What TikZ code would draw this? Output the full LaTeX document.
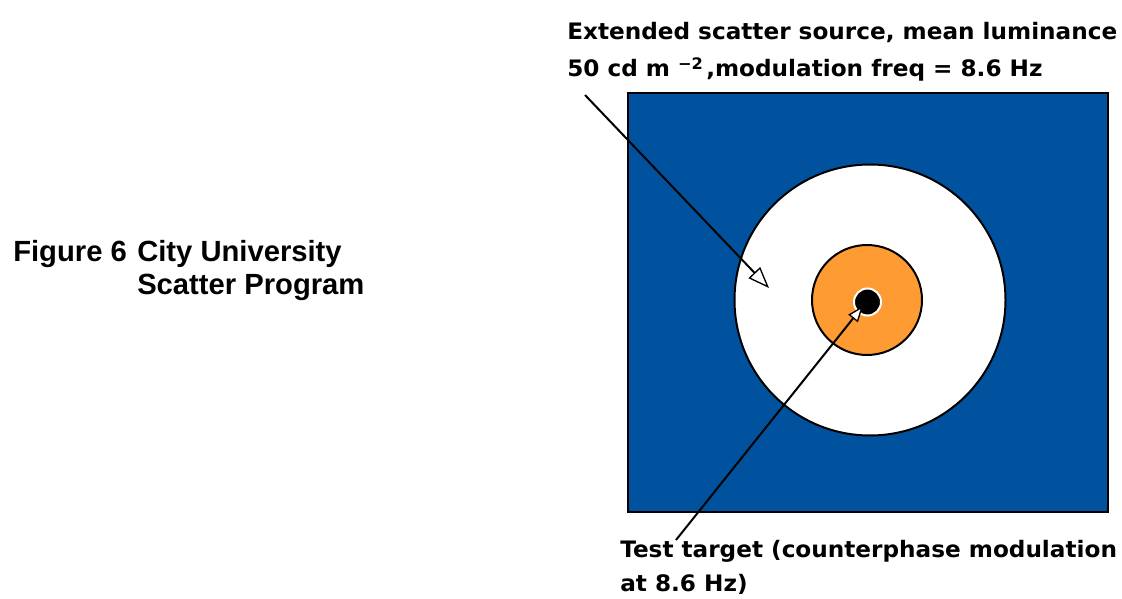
\documentclass[tikz,border=0pt]{standalone}
\usepackage{fontspec}
\setmainfont{Liberation Sans}
\newfontfamily\notefont[FakeStretch=1.022]{DejaVu Sans}
\usetikzlibrary{arrows.meta}
\definecolor{fieldblue}{RGB}{0,82,159}
\definecolor{ringorange}{RGB}{255,155,51}
\tikzset{
  note/.style={font=\notefont\bfseries\fontsize{17}{20}\selectfont, inner sep=0pt, anchor=base west},
  caption/.style={font=\bfseries\fontsize{21.9}{25}\selectfont, inner sep=0pt, anchor=base west},
  pointer/.style={line width=1.5pt, -{Triangle[open, fill=white, length=16pt, width=12pt, line width=1pt]}},
  pointersmall/.style={line width=1.5pt, -{Triangle[open, fill=white, length=12pt, width=9pt, line width=1pt]}},
}
\begin{document}
\begin{tikzpicture}[x=0.75pt, y=-0.75pt]
  \useasboundingbox (0,0) rectangle (1122,599);
  % stimulus field
  \draw[line width=1.5pt, fill=fieldblue] (628,93) rectangle (1108,512);
  \draw[line width=1.5pt, fill=white] (870,300) circle (135.5);
  \draw[line width=1.5pt, fill=ringorange] (867,300) circle (55);
  \draw[line width=1.5pt, draw=white, fill=black] (867.5,302) circle (13.5);
  % captions
  \node[caption] (fig) at (13,262) {Figure 6};
  \node[caption] (title1) at (137,262) {City University};
  \node[caption] (title2) at (137,295) {Scatter Program};
  % annotations
  \node[note] (src1) at (567,40) {Extended scatter source, mean luminance};
  \node[note] (src2) at (567,77) {50 cd m\hspace{6pt}\raisebox{-1pt}{\textsuperscript{−2}}\hspace{2pt},modulation freq = 8.6 Hz};
  \node[note] (tgt1) at (620,557) {Test target (counterphase modulation};
  \node[note] (tgt2) at (620,591) {at 8.6 Hz)};
  % pointers
  \coordinate (srcstart) at (585,95);
  \coordinate (srctip) at (769,288);
  \coordinate (tgtstart) at (676,540);
  \coordinate (tgttip) at (863,306);
  \draw[pointer] (srcstart) -- (srctip);
  \draw[pointersmall] (tgtstart) -- (tgttip);
\end{tikzpicture}
\end{document}
